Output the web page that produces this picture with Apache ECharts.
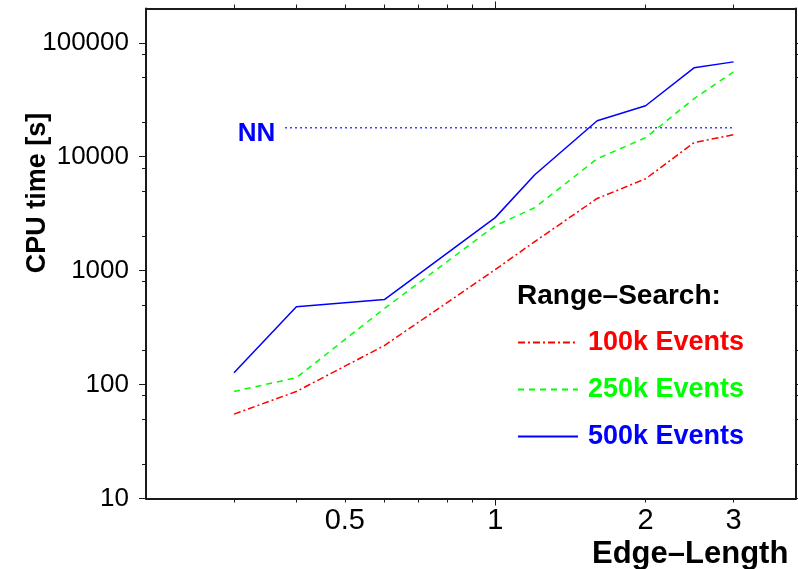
<!DOCTYPE html>
<html>
<head>
<meta charset="utf-8">
<script src="https://cdn.jsdelivr.net/npm/echarts@6/dist/echarts.min.js"></script>
<style>
  html, body { margin: 0; padding: 0; background: #fff; }
  #chart { width: 798px; height: 569px; }
</style>
</head>
<body>
<div id="chart"></div>
<script>
// edge length (x) and CPU time in seconds (y)
const edgeLength = [0.3, 0.4, 0.6, 1.0, 1.2, 1.6, 2.0, 2.5, 3.0];
const events100k = [55, 87, 220, 1020, 1800, 4300, 6400, 13300, 15600];
const events250k = [87, 115, 465, 2480, 3570, 9600, 14700, 32300, 55700];
const events500k = [127, 483, 557, 2920, 6950, 20700, 28000, 60300, 68000];
const nnEdge = [0.38, 3.0];
const nnTime = [18000, 18000];

const xLabels = [0.5, 1, 2, 3];
const xMajorTicks = [1];
const xMinorTicks = [0.3, 0.4, 0.5, 0.6, 0.7, 0.8, 0.9, 2, 3];
const yLabels = [10, 100, 1000, 10000, 100000];
const yMinorTicks = [20, 50, 80, 200, 500, 800, 2000, 5000, 8000, 20000, 50000, 80000];

const FONT = "Liberation Sans, Arial, Helvetica, sans-serif";
const AXIS_COLOR = "#1a1a1a";

const pairs = (xs, ys) => xs.map((x, i) => [x, ys[i]]);

const chart = echarts.init(document.getElementById("chart"));

const hidden = { show: false };
const frameLine = { show: true, lineStyle: { color: AXIS_COLOR, width: 2 } };
const ticks = (values, len) => ({
  show: true,
  inside: false,
  length: len,
  customValues: values,
  lineStyle: { color: AXIS_COLOR, width: 1 },
});

const logX = (position, extra) =>
  Object.assign(
    {
      type: "log", logBase: 10, min: 0.2, max: 4, position: position,
      axisLine: hidden, axisTick: hidden, axisLabel: hidden, splitLine: hidden,
    },
    extra
  );
const logY = (position, extra) =>
  Object.assign(
    {
      type: "log", logBase: 10, min: 10, max: 200000, position: position,
      axisLine: hidden, axisTick: hidden, axisLabel: hidden, splitLine: hidden,
    },
    extra
  );

const option = {
  backgroundColor: "#fff",
  animation: false,
  grid: {
    left: 146,
    right: 2,
    top: 8.5,
    bottom: 70.5,
    containLabel: false,
    outerBoundsMode: "none",
  },
  title: [
    {
      text: "Range–Search:",
      left: 517,
      top: 282,
      padding: 0,
      textStyle: { color: "#000", fontSize: 28, fontWeight: "bold", fontFamily: FONT },
    },
    {
      text: "Edge–Length",
      left: 592,
      top: 539,
      padding: 0,
      textStyle: { color: "#000", fontSize: 31, fontWeight: "bold", fontFamily: FONT },
    },
  ],
  graphic: [
    {
      type: "text",
      x: 38,
      y: 193,
      rotation: Math.PI / 2,
      style: {
        text: "CPU time [s]",
        font: "bold 27px " + FONT,
        fill: "#000",
        align: "center",
        verticalAlign: "middle",
        textAlign: "center",
        textVerticalAlign: "middle",
      },
    },
  ],
  legend: {
    orient: "vertical",
    left: 517,
    top: 329,
    padding: 0,
    itemWidth: 60,
    itemHeight: 14,
    itemGap: 20,
    itemStyle: { opacity: 0 },
    data: [
      { name: "100k Events", textStyle: { color: "#ff0000" } },
      { name: "250k Events", textStyle: { color: "#00ff00" } },
      { name: "500k Events", textStyle: { color: "#0000ff" } },
    ],
    textStyle: { fontSize: 27, fontWeight: "bold", fontFamily: FONT, padding: [0, 0, 0, 5] },
  },
  xAxis: [
    logX("bottom", {
      axisLine: frameLine,
      axisTick: ticks(xMajorTicks, 7),
      axisLabel: {
        show: true, customValues: xLabels, color: "#000", fontSize: 29,
        fontFamily: FONT, margin: 8, formatter: (v) => String(v),
      },
    }),
    logX("bottom", { axisTick: ticks(xMinorTicks, 4) }),
    logX("top", { axisLine: frameLine, axisTick: ticks(xMajorTicks, 7) }),
    logX("top", { axisTick: ticks(xMinorTicks, 4) }),
  ],
  yAxis: [
    logY("left", {
      axisLine: frameLine,
      axisTick: ticks(yLabels, 7),
      axisLabel: {
        show: true, customValues: yLabels, color: "#000", fontSize: 26,
        fontFamily: FONT, margin: 17, formatter: (v) => String(Math.round(v)),
      },
    }),
    logY("left", { axisTick: ticks(yMinorTicks, 4) }),
    logY("right", { axisLine: frameLine, axisTick: ticks(yLabels, 7) }),
    logY("right", { axisTick: ticks(yMinorTicks, 4) }),
  ],
  series: [
    {
      name: "100k Events",
      type: "line",
      data: pairs(edgeLength, events100k),
      symbol: "none",
      color: "#ff0000",
      lineStyle: { color: "#ff0000", width: 1.5, type: [7, 3, 2, 3] },
    },
    {
      name: "250k Events",
      type: "line",
      data: pairs(edgeLength, events250k),
      symbol: "none",
      color: "#00ff00",
      lineStyle: { color: "#00ff00", width: 1.5, type: [6, 5] },
    },
    {
      name: "500k Events",
      type: "line",
      data: pairs(edgeLength, events500k),
      symbol: "none",
      color: "#0000ff",
      lineStyle: { color: "#0000ff", width: 1.5, type: "solid" },
    },
    {
      name: "NN",
      type: "line",
      data: pairs(nnEdge, nnTime).map((p, i) =>
        i === 0
          ? {
              value: p,
              label: {
                show: true,
                position: "left",
                distance: 10,
                offset: [0, 6],
                opacity: 1,
                formatter: "NN",
                color: "#0000ff",
                fontSize: 26,
                fontWeight: "bold",
                fontFamily: FONT,
              },
            }
          : p
      ),
      symbol: "circle",
      symbolSize: 0.01,
      showSymbol: true,
      color: "#0000ff",
      lineStyle: { color: "#0000ff", width: 1.5, type: [1.5, 3.5] },
    },
  ],
};

chart.setOption(option);
</script>
</body>
</html>
